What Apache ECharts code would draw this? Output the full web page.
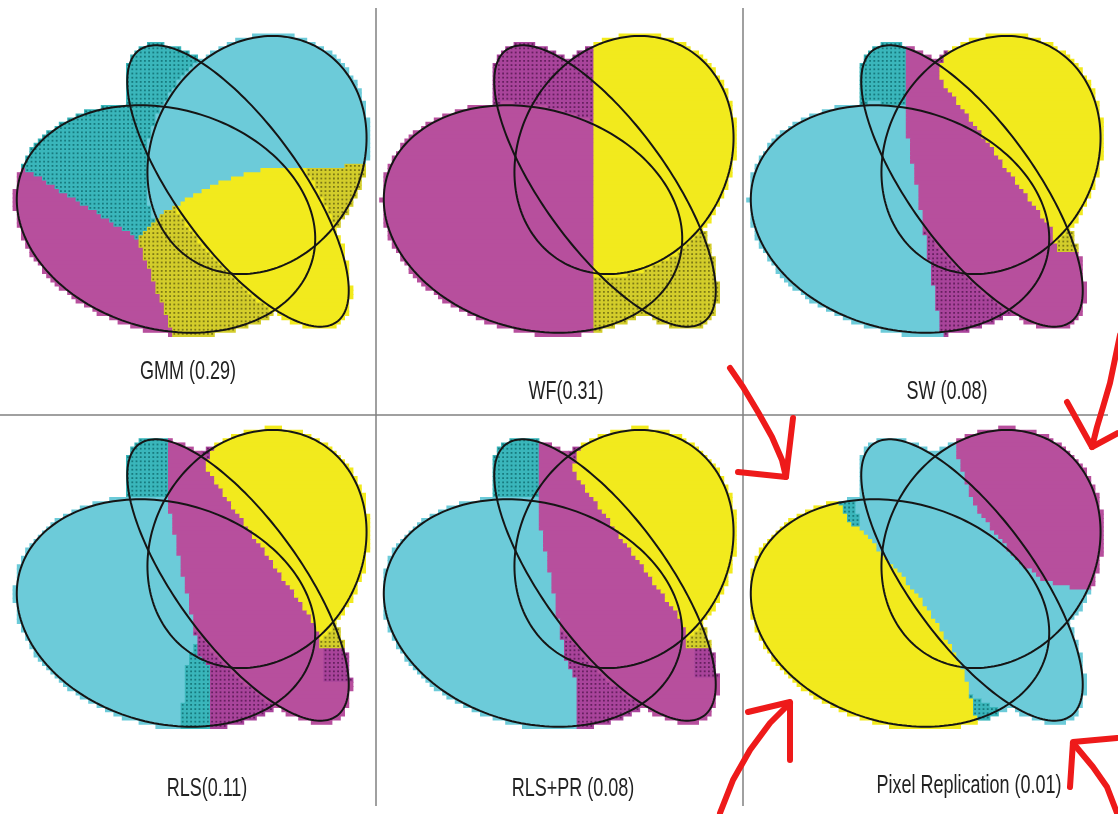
<!DOCTYPE html>
<html>
<head>
<meta charset="utf-8">
<script src="https://cdn.jsdelivr.net/npm/echarts@6/dist/echarts.min.js"></script>
<style>
  html, body { margin: 0; background: #fff; }
  #main { width: 1118px; height: 814px; }
</style>
</head>
<body>
<div id="main"></div>
<script>
// the three ellipses, same in every panel: [cx, cy, a, b, tilt in degrees]
var ellipses = [
  [166, 219, 152, 110, 16],
  [238, 186, 168, 62, 54],
  [257, 155, 123.5, 104.5, -60]
];

var panelNames = ['GMM (0.29)', 'WF(0.31)', 'SW (0.08)', 'RLS(0.11)', 'RLS+PR (0.08)', 'Pixel Replication (0.01)'];

// segmentation of each panel: [class, dotRule, polygon]; later layers win
// dotRule: -1 never dotted, 0..2 dotted outside that ellipse, 9 always dotted
var FULL = [[0, 0], [400, 0], [400, 420], [0, 420]];
var gmmRegions = [
  ['Y', 1, FULL],
  ['C', 2, [[0, 0], [400, 0], [400, 165], [277, 167], [253, 171], [233, 177], [213, 186], [200, 192], [180, 203], [163, 213], [150, 224], [137, 238], [23, 168], [0, 154]]],
  ['M', -1, [[0, 154], [137, 238], [175, 340], [178, 420], [0, 420]]]
];
var wfRegions = [
  ['Y', 2, FULL],
  ['M', 0, [[0, 0], [216.7, 0], [216.7, 420], [0, 420]]]
];
var swRegions = [
  ['C', 0, FULL],
  ['M', 1, [[161.7, 0], [400, 0], [400, 420], [202, 420], [200, 336.7], [161.7, 113.3]]],
  ['Y', 2, [[216.7, 0], [213.3, 33.3], [200, 63.3], [195, 75], [310, 230], [315, 253.3], [400, 253.3], [400, 0]]]
];
var rlsRegions = [
  ['C', 0, FULL],
  ['C', 9, [[193.3, 230], [201.7, 230], [208.3, 253.3], [208.3, 333.3], [181.7, 333.3], [183.3, 266.7]]],
  ['M', 1, [[170, 0], [400, 0], [400, 420], [208.3, 420], [208.3, 253.3], [200, 246.7], [170, 100]]],
  ['M', 9, [[325, 232], [360, 232], [360, 268], [325, 268]]],
  ['Y', 2, [[216.7, 0], [213.3, 33.3], [205, 55], [316.7, 213.3], [318.3, 233.3], [400, 233.3], [400, 0]]]
];
var rlsprRegions = [
  ['C', 0, FULL],
  ['M', 1, [[161.7, 0], [400, 0], [400, 420], [200, 420], [200, 266.7], [191.7, 250], [161.7, 96.7]]],
  ['M', 9, [[318, 232], [345, 232], [345, 265], [318, 265]]],
  ['Y', 2, [[206.7, 0], [205, 33.3], [196.7, 56.7], [308.3, 210], [310, 233.3], [400, 233.3], [400, 0]]]
];
var prRegions = [
  ['C', -1, FULL],
  ['Y', -1, [[0, 0], [33.3, 0], [93.3, 86.7], [133.3, 133.3], [180, 186.7], [216.7, 246.7], [240, 313.3], [243.3, 420], [0, 420]]],
  ['C', 9, [[95, 87], [113, 87], [118, 112], [108, 112]]],
  ['C', 9, [[228, 283], [245, 290], [262, 300], [262, 318], [238, 318]]],
  ['M', -1, [[210, 0], [213.3, 36.7], [216.7, 46.7], [223.3, 66.7], [230, 86.7], [240, 103.3], [253.3, 120], [266.7, 136.7], [283.3, 153.3], [300, 166.7], [313.3, 171.7], [333.3, 175], [400, 175], [400, 0]]]
];
var panelRegions = [gmmRegions, wfRegions, swRegions, rlsRegions, rlsprRegions, prRegions];

// layout
var panelOrigin = [[0, 0], [375, 0], [742, 0], [0, 413], [375, 413], [742, 413]];
var panelShift = [[0, 0], [-8, 0], [-8, 0], [0, -19], [-8, -19], [-8, -19]];
var labelPos = [[188, 372], [566, 392], [947, 392], [207, 789], [573, 789], [969, 786]];
var PW = 372, PH = 400, CELL = 4.2, PAD = 2.5;

var CLASS_KEYS = ['C', 'M', 'Y'];
var CLASS_COLORS = {
  C: ['#6ccbd9', '#3ab6bb', '#177a7e'],
  M: ['#b74f9d', '#a9449b', '#66205f'],
  Y: ['#f2ea1d', '#d3cd2b', '#7d7915']
};

// hand drawn red arrows
var arrowStrokes = [
  [[730, 368], [743, 387], [758, 412], [772, 437], [782, 460], [786, 477]],
  [[738, 472], [786, 477], [793, 418]],
  [[1120, 335], [1110, 383], [1103, 407], [1097, 427], [1092, 447]],
  [[1067, 402], [1092, 447], [1118, 433]],
  [[720, 813], [733, 780], [750, 750], [770, 723], [790, 703]],
  [[748, 712], [790, 702], [790, 760]],
  [[1117, 813], [1107, 787], [1093, 767], [1073, 743]],
  [[1117, 738], [1073, 742], [1070, 787]]
];

function inEllipse(e, x, y, pad) {
  var t = e[4] * Math.PI / 180, dx = x - e[0], dy = y - e[1];
  var u = dx * Math.cos(t) + dy * Math.sin(t);
  var v = -dx * Math.sin(t) + dy * Math.cos(t);
  var a = e[2] + pad, b = e[3] + pad;
  return u * u / (a * a) + v * v / (b * b) <= 1;
}

function inPoly(poly, x, y) {
  var inside = false;
  for (var i = 0, j = poly.length - 1; i < poly.length; j = i++) {
    var xi = poly[i][0], yi = poly[i][1], xj = poly[j][0], yj = poly[j][1];
    if ((yi > y) !== (yj > y) && x < (xj - xi) * (y - yi) / (yj - yi) + xi) inside = !inside;
  }
  return inside;
}

// pixel raster of the union, merged into runs: [x0, y, x1, class, dotted]
function buildRuns(p) {
  var shift = panelShift[p], layers = panelRegions[p], runs = [];
  for (var y = 0; y + CELL <= PH; y += CELL) {
    var run = null;
    for (var x = 0; x + CELL <= PW; x += CELL) {
      var cx = x + CELL / 2, cy = y + CELL / 2;
      var lx = cx - shift[0], ly = cy - shift[1];
      var key = null;
      if (ellipses.some(function (e) { return inEllipse(e, lx, ly, PAD); })) {
        for (var k = layers.length - 1; k >= 0; k--) {
          if (inPoly(layers[k][2], cx, cy)) {
            var rule = layers[k][1];
            var dot = rule === 9 || (rule >= 0 && rule < 3 && !inEllipse(ellipses[rule], lx, ly, PAD)) ? 1 : 0;
            key = [CLASS_KEYS.indexOf(layers[k][0]), dot];
            break;
          }
        }
      }
      if (run && key && run[3] === key[0] && run[4] === key[1]) {
        run[2] = x + CELL;
      } else {
        if (run) runs.push(run);
        run = key ? [x, y, x + CELL, key[0], key[1]] : null;
      }
    }
    if (run) runs.push(run);
  }
  return runs;
}

function renderRun(params, api) {
  var x0 = api.value(0), y0 = api.value(1), x1 = api.value(2);
  var col = CLASS_COLORS[CLASS_KEYS[api.value(3)]], dot = api.value(4);
  var a = api.coord([x0, y0]), b = api.coord([x1, y0 + CELL]);
  var kids = [{
    type: 'rect',
    shape: { x: a[0], y: a[1], width: b[0] - a[0] + 0.6, height: b[1] - a[1] + 1 },
    style: { fill: dot ? col[1] : col[0] }
  }];
  if (dot) {
    var n = Math.round((x1 - x0) / CELL), w = (b[0] - a[0]) / n, my = (a[1] + b[1]) / 2;
    for (var i = 0; i < n; i++) {
      kids.push({
        type: 'rect',
        shape: { x: a[0] + w * i + w / 2 - 0.9, y: my - 0.9, width: 1.8, height: 1.8 },
        style: { fill: col[2] }
      });
    }
  }
  return { type: 'group', children: kids };
}

function renderEllipse(params, api) {
  var cx = api.value(0), cy = api.value(1), a = api.value(2), b = api.value(3);
  var t = api.value(4) * Math.PI / 180, pts = [];
  for (var k = 0; k < 200; k++) {
    var s = k / 200 * 2 * Math.PI, u = a * Math.cos(s), v = b * Math.sin(s);
    pts.push(api.coord([cx + u * Math.cos(t) - v * Math.sin(t), cy + u * Math.sin(t) + v * Math.cos(t)]));
  }
  return { type: 'polygon', shape: { points: pts }, style: { fill: 'none', stroke: '#151515', lineWidth: 2 } };
}

var grids = [], xAxes = [], yAxes = [], series = [], graphics = [];
panelOrigin.forEach(function (o, p) {
  grids.push({ left: o[0], top: o[1], width: PW, height: PH });
  xAxes.push({ type: 'value', gridIndex: p, min: 0, max: PW, show: false });
  yAxes.push({ type: 'value', gridIndex: p, min: 0, max: PH, inverse: true, show: false });
  series.push({
    type: 'custom', xAxisIndex: p, yAxisIndex: p, silent: true,
    encode: { x: 0, y: 1 },
    data: buildRuns(p),
    renderItem: renderRun
  });
  series.push({
    type: 'custom', xAxisIndex: p, yAxisIndex: p, silent: true, z: 3,
    encode: { x: 0, y: 1 },
    data: ellipses.map(function (e) {
      return [e[0] + panelShift[p][0], e[1] + panelShift[p][1], e[2], e[3], e[4]];
    }),
    renderItem: renderEllipse
  });
  graphics.push({
    type: 'text', x: labelPos[p][0], y: labelPos[p][1], scaleY: 1.45, z: 10,
    style: {
      text: panelNames[p], fill: '#222',
      font: '18px "Liberation Sans", Arial, sans-serif',
      textAlign: 'center', textVerticalAlign: 'middle'
    }
  });
});

// panel separators
[[[376, 8], [376, 806]], [[743, 8], [743, 806]], [[0, 415], [1108, 415]]].forEach(function (s) {
  graphics.push({
    type: 'line', z: 5,
    shape: { x1: s[0][0], y1: s[0][1], x2: s[1][0], y2: s[1][1] },
    style: { stroke: '#808080', lineWidth: 1.5 }
  });
});

arrowStrokes.forEach(function (pts) {
  graphics.push({
    type: 'polyline', z: 20,
    shape: { points: pts },
    style: { stroke: '#ee1a1a', lineWidth: 6, lineCap: 'round', lineJoin: 'round', fill: null }
  });
});

var chart = echarts.init(document.getElementById('main'));
chart.setOption({
  animation: false,
  backgroundColor: '#fff',
  grid: grids,
  xAxis: xAxes,
  yAxis: yAxes,
  series: series,
  graphic: graphics
});
</script>
</body>
</html>
